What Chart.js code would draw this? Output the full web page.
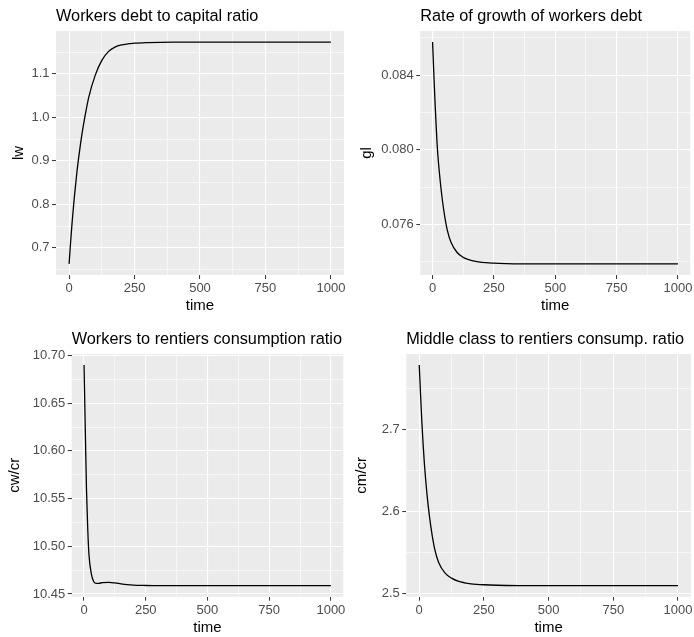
<!DOCTYPE html>
<html>
<head>
<meta charset="utf-8">
<script src="https://cdn.jsdelivr.net/npm/chart.js@4.4.0/dist/chart.umd.min.js"></script>
<style>
  body { margin: 0; background: #fff; }
  #wrap { position: relative; width: 694px; height: 637px; overflow: hidden; }
  canvas { position: absolute; }
</style>
</head>
<body>
<div id="wrap">
  <canvas id="lwChart" width="347" height="318" style="left:0;top:0"></canvas>
  <canvas id="glChart" width="347" height="318" style="left:347px;top:0"></canvas>
  <canvas id="cwChart" width="347" height="319" style="left:0;top:318px"></canvas>
  <canvas id="cmChart" width="347" height="319" style="left:347px;top:318px"></canvas>
</div>
<script>
// time points the series were read at
const time = [0, 5, 10, 15, 20, 30, 40, 50, 60, 75, 100, 125, 150, 175, 200, 250, 300, 400, 500, 600, 700, 800, 900, 1000];

// workers debt to capital ratio
const lw = [0.663, 0.707, 0.747, 0.783, 0.816, 0.875, 0.923, 0.965, 1.000, 1.046, 1.097, 1.131, 1.151, 1.1615, 1.1665, 1.1705, 1.172, 1.173, 1.173, 1.173, 1.173, 1.173, 1.173, 1.173];
// rate of growth of workers debt
const gl = [0.08577, 0.08412, 0.08255, 0.08120, 0.08000, 0.07848, 0.07730, 0.07640, 0.07570, 0.07505, 0.07450, 0.07424, 0.07410, 0.07402, 0.07397, 0.07393, 0.07391, 0.07389, 0.07389, 0.07389, 0.07389, 0.07389, 0.07389, 0.07389];
// workers to rentiers consumption ratio
const cwcr = [10.690, 10.623, 10.559, 10.518, 10.491, 10.4705, 10.4625, 10.4610, 10.4612, 10.4618, 10.4622, 10.4616, 10.4606, 10.4598, 10.4593, 10.4589, 10.4587, 10.4587, 10.4587, 10.4587, 10.4587, 10.4587, 10.4587, 10.4587];
// middle class to rentiers consumption ratio
const cmcr = [2.7785, 2.743, 2.710, 2.682, 2.658, 2.621, 2.593, 2.571, 2.554, 2.538, 2.525, 2.519, 2.5153, 2.5133, 2.5121, 2.5109, 2.5103, 2.5099, 2.5098, 2.5098, 2.5098, 2.5098, 2.5098, 2.5098];

// tick labels
const timeTicks = ['0', '250', '500', '750', '1000'];
const lwTicks = ['0.7', '0.8', '0.9', '1.0', '1.1'];
const glTicks = ['0.076', '0.080', '0.084'];
const cwcrTicks = ['10.45', '10.50', '10.55', '10.60', '10.65', '10.70'];
const cmcrTicks = ['2.5', '2.6', '2.7'];

const FONT = '"Liberation Sans", Arial, sans-serif';

// ggplot style range: data range plus 5% each side
function expand(values) {
    const lo = Math.min(...values);
    const hi = Math.max(...values);
    const pad = (hi - lo) * 0.05;
    return [lo - pad, hi + pad];
}

// major ticks from the labels, minor ones half way between
function buildTicks(labels, min, max) {
    const majors = labels.map(Number);
    const step = majors[1] - majors[0];
    const ticks = labels.map(s => ({ value: Number(s), text: s }));
    for (let i = -1; i < majors.length; i++) {
        const v = majors[0] + step * (i + 0.5);
        if (v > min && v < max) ticks.push({ value: v, text: '', minor: true });
    }
    return ticks.sort((a, b) => a.value - b.value);
}

function axisOptions(labels, range, titleText, size, titlePad, horizontal) {
    const [min, max] = range;
    return {
        type: 'linear',
        min: min,
        max: max,
        afterBuildTicks: scale => { scale.ticks = buildTicks(labels, min, max); },
        afterFit: scale => {
            if (horizontal) scale.height = size;
            else scale.width = size;
        },
        ticks: {
            autoSkip: false,
            maxRotation: 0,
            padding: horizontal ? 1.5 : 2.5,
            color: '#4D4D4D',
            font: { family: FONT, size: 13 },
            callback: (v, i, ticks) => ticks[i].text
        },
        grid: {
            color: '#FFFFFF',
            lineWidth: ctx => (ctx.tick && ctx.tick.minor ? 0.55 : 1.1),
            tickLength: 4,
            tickWidth: 1,
            tickColor: ctx => (ctx.tick && ctx.tick.minor ? 'rgba(0,0,0,0)' : '#333333')
        },
        border: { display: false },
        title: {
            display: true,
            text: titleText,
            color: '#000000',
            font: { family: FONT, size: 15 },
            padding: horizontal ? { top: 0, bottom: titlePad } : { top: titlePad, bottom: 0 }
        }
    };
}

// grey panel background and left aligned title
const panelStyle = {
    id: 'panelStyle',
    beforeDraw(chart) {
        const { ctx, chartArea: a } = chart;
        ctx.save();
        ctx.fillStyle = '#EBEBEB';
        ctx.fillRect(a.left, a.top, a.right - a.left, a.bottom - a.top);
        ctx.restore();
    },
    afterDraw(chart, args, opts) {
        const { ctx, chartArea: a } = chart;
        ctx.save();
        ctx.fillStyle = '#000000';
        ctx.font = '16.3px ' + FONT;
        ctx.textAlign = 'left';
        ctx.textBaseline = 'alphabetic';
        ctx.fillText(opts.text, a.left, a.top - 10.5);
        ctx.restore();
    }
};

function makePanel(id, title, yTitle, values, yLabels, box) {
    new Chart(document.getElementById(id), {
        type: 'line',
        data: {
            datasets: [{
                data: time.map((t, i) => ({ x: t, y: values[i] })),
                borderColor: '#000000',
                borderWidth: 1.3,
                pointRadius: 0,
                fill: false,
                cubicInterpolationMode: 'monotone'
            }]
        },
        options: {
            responsive: false,
            animation: false,
            devicePixelRatio: 1,
            layout: { padding: { left: 0, top: box.top, right: box.right, bottom: 0 } },
            plugins: {
                legend: { display: false },
                tooltip: { enabled: false },
                panelStyle: { text: title }
            },
            scales: {
                x: axisOptions(timeTicks, expand(time), 'time', box.xHeight, box.xPad, true),
                y: axisOptions(yLabels, expand(values), yTitle, box.yWidth, box.yPad, false)
            }
        },
        plugins: [panelStyle]
    });
}

makePanel('lwChart', 'Workers debt to capital ratio', 'lw', lw, lwTicks,
    { top: 31, right: 3, yWidth: 56, xHeight: 43, yPad: 10, xPad: 3 });
makePanel('glChart', 'Rate of growth of workers debt', 'gl', gl, glTicks,
    { top: 31, right: 1.3, yWidth: 73.3, xHeight: 43, yPad: 11, xPad: 3 });
makePanel('cwChart', 'Workers to rentiers consumption ratio', 'cw/cr', cwcr, cwcrTicks,
    { top: 36, right: 3.5, yWidth: 71.7, xHeight: 40.3, yPad: 6, xPad: 0.5 });
makePanel('cmChart', 'Middle class to rentiers consump. ratio', 'cm/cr', cmcr, cmcrTicks,
    { top: 36, right: 0.6, yWidth: 59.3, xHeight: 40.3, yPad: 6, xPad: 0.5 });
</script>
</body>
</html>
